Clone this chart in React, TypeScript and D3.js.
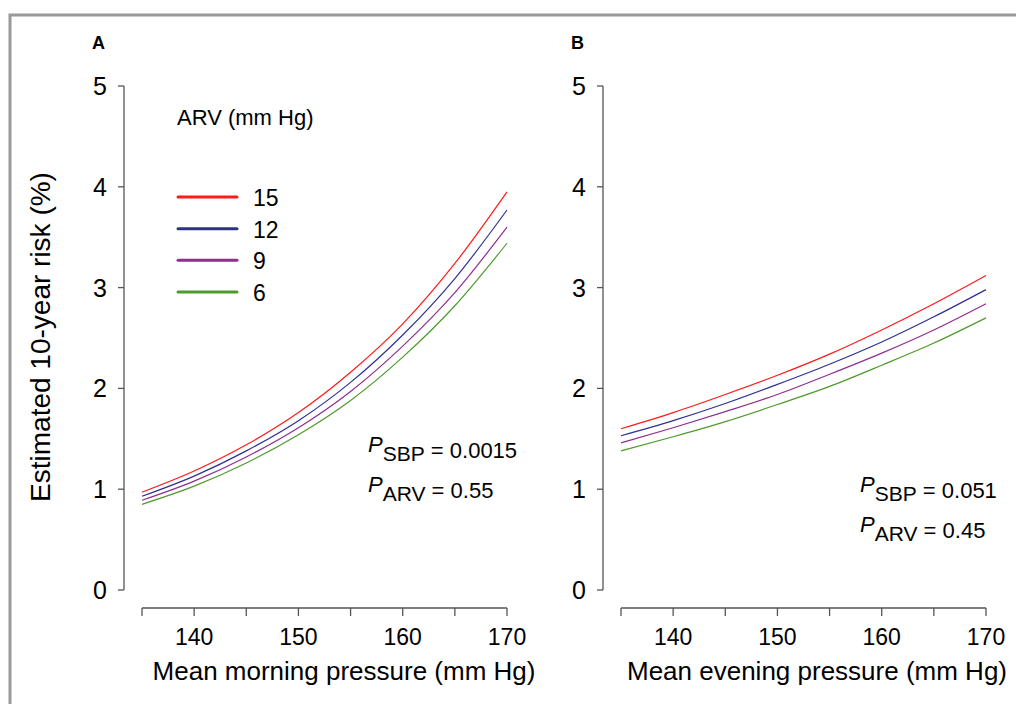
import React from 'react';
import * as d3 from 'd3';

// blood pressure grid (mm Hg)
const pressures = [135, 140, 145, 150, 155, 160, 165, 170];
const xTicks = [135, 140, 145, 150, 155, 160, 165, 170];
const xTickLabels = ['', '140', '', '150', '', '160', '', '170'];
const yTicks = [0, 1, 2, 3, 4, 5];

const arvLevels = ['15', '12', '9', '6'];
const arvColors = ['#ff1a1a', '#2e3192', '#8e2f8e', '#4f9a2c'];

// estimated 10-year risk (%), morning
const morningRisk15 = [0.97, 1.18, 1.44, 1.76, 2.16, 2.64, 3.24, 3.95];
const morningRisk12 = [0.93, 1.13, 1.38, 1.68, 2.06, 2.53, 3.09, 3.77];
const morningRisk9 = [0.89, 1.08, 1.32, 1.61, 1.97, 2.42, 2.95, 3.60];
const morningRisk6 = [0.85, 1.03, 1.26, 1.54, 1.88, 2.31, 2.82, 3.44];

// estimated 10-year risk (%), evening
const eveningRisk15 = [1.60, 1.76, 1.94, 2.13, 2.34, 2.58, 2.84, 3.12];
const eveningRisk12 = [1.53, 1.68, 1.85, 2.04, 2.24, 2.46, 2.71, 2.98];
const eveningRisk9 = [1.46, 1.61, 1.77, 1.94, 2.14, 2.35, 2.58, 2.84];
const eveningRisk6 = [1.38, 1.52, 1.67, 1.84, 2.02, 2.23, 2.45, 2.70];

const font = 'Liberation Sans, Arial, sans-serif';
const axisColor = '#555';

const Panel = ({ letter, yAxisX, xLeft, series, title, titleX, pSbp, pArv, annX, annY }) => {
  const x = d3.scaleLinear().domain([135, 170]).range([xLeft, xLeft + 365]);
  const y = d3.scaleLinear().domain([0, 5]).range([590, 86]);
  const axisY = 608;
  const line = d3.line<number>()
    .x((_, i) => x(pressures[i]))
    .y(d => y(d))
    .curve(d3.curveMonotoneX);

  return (
    <g fontFamily={font}>
      <text x={yAxisX - 32} y={49} fontSize={18} fontWeight="bold">{letter}</text>

      {/* y axis */}
      <line x1={yAxisX} x2={yAxisX} y1={y(5)} y2={y(0)} stroke={axisColor} strokeWidth={1.3} />
      {yTicks.map(t => (
        <g key={t}>
          <line x1={yAxisX - 6} x2={yAxisX} y1={y(t)} y2={y(t)} stroke={axisColor} strokeWidth={1.3} />
          <text x={yAxisX - 17} y={y(t) + 9} fontSize={25} textAnchor="end">{t}</text>
        </g>
      ))}

      {/* x axis */}
      <line x1={x(135)} x2={x(170)} y1={axisY} y2={axisY} stroke={axisColor} strokeWidth={1.3} />
      {xTicks.map((t, i) => (
        <g key={t}>
          <line x1={x(t)} x2={x(t)} y1={axisY} y2={axisY + 8} stroke={axisColor} strokeWidth={1.3} />
          <text x={x(t)} y={645} fontSize={23} textAnchor="middle">{xTickLabels[i]}</text>
        </g>
      ))}
      <text x={titleX} y={680} fontSize={26} textAnchor="middle">{title}</text>

      {series.map((s, i) => (
        <path key={i} d={line(s) || ''} fill="none" stroke={arvColors[i]} strokeWidth={1.2} />
      ))}

      <text x={annX} y={annY} fontSize={22}>
        <tspan fontStyle="italic">P</tspan>
        <tspan dy={9} fontSize={21}>SBP</tspan>
        <tspan dy={-3}> = {pSbp}</tspan>
      </text>
      <text x={annX} y={annY + 40} fontSize={22}>
        <tspan fontStyle="italic">P</tspan>
        <tspan dy={9} fontSize={21}>ARV</tspan>
        <tspan dy={-3}> = {pArv}</tspan>
      </text>
    </g>
  );
};

export default function App() {
  const legendY = d3.scalePoint<string>().domain(arvLevels).range([197, 292]);
  return (
    <svg width={1016} height={704} style={{ position: 'absolute', left: 0, top: 0, background: '#fff' }}>
      <rect x={10} y={15} width={1020} height={700} fill="none" stroke="#9a9a9a" strokeWidth={3} />

      <Panel
        letter="A" yAxisX={124} xLeft={142}
        series={[morningRisk15, morningRisk12, morningRisk9, morningRisk6]}
        title="Mean morning pressure (mm Hg)" titleX={344}
        pSbp="0.0015" pArv="0.55" annX={368} annY={452}
      />
      <Panel
        letter="B" yAxisX={603} xLeft={621}
        series={[eveningRisk15, eveningRisk12, eveningRisk9, eveningRisk6]}
        title="Mean evening pressure (mm Hg)" titleX={817}
        pSbp="0.051" pArv="0.45" annX={860} annY={492}
      />

      <text
        transform="translate(50,337) rotate(-90)" fontFamily={font} fontSize={28} textAnchor="middle"
      >Estimated 10-year risk (%)</text>

      {/* legend */}
      <g fontFamily={font}>
        <text x={177} y={125} fontSize={22}>ARV (mm Hg)</text>
        {arvLevels.map((lv, i) => (
          <g key={lv}>
            <line x1={178} x2={237} y1={legendY(lv)} y2={legendY(lv)} stroke={arvColors[i]} strokeWidth={3} strokeLinecap="round" />
            <text x={253} y={(legendY(lv) || 0) + 9} fontSize={23}>{lv}</text>
          </g>
        ))}
      </g>
    </svg>
  );
}
